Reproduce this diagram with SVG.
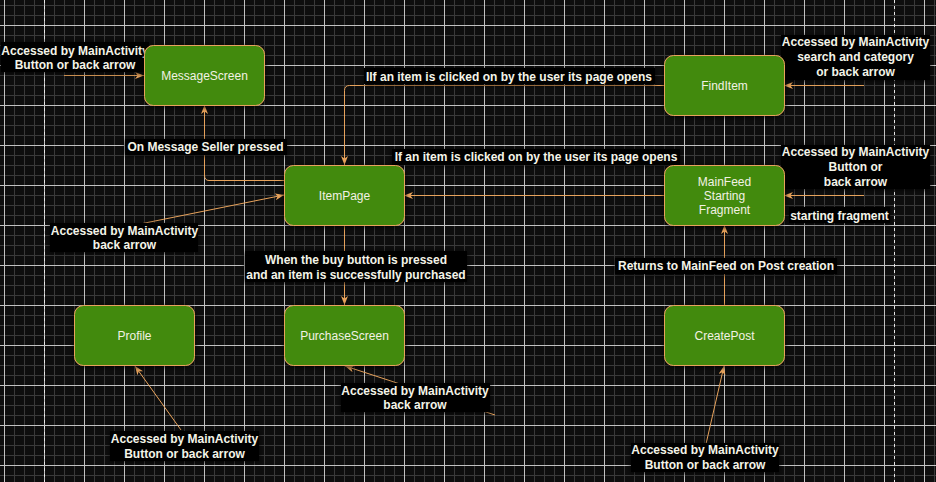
<svg xmlns="http://www.w3.org/2000/svg" width="936" height="482" viewBox="0 0 936 482">
<defs>
<pattern id="minor" patternUnits="userSpaceOnUse" x="4" y="5" width="10" height="10">
<rect x="0" y="0" width="1" height="10" fill="#3a3a3a"/>
<rect x="0" y="0" width="10" height="1" fill="#3a3a3a"/>
</pattern>
<pattern id="major" patternUnits="userSpaceOnUse" x="4" y="25" width="40" height="40">
<rect x="0" y="0" width="1" height="40" fill="#c2c2c2"/>
<rect x="0" y="0" width="40" height="1" fill="#c2c2c2"/>
</pattern>
<marker id="arr" markerUnits="userSpaceOnUse" markerWidth="10" markerHeight="8" refX="9" refY="3.5" orient="auto">
<path d="M0,0 L9,3.5 L0,7 L2.5,3.5 Z" fill="#e8a35c"/>
</marker>
<filter id="glow" x="-20%" y="-30%" width="140%" height="160%">
<feDropShadow dx="0" dy="1" stdDeviation="2.5" flood-color="#000" flood-opacity="0.85"/>
</filter>
</defs>
<style>
.node rect{fill:#428a10;stroke:#e8a35c;stroke-width:1;filter:url(#glow)}
.node text{font-family:"Liberation Sans",Arial,sans-serif;font-size:12px;fill:#f2f2e4;text-anchor:middle}
.edge{fill:none;stroke:#e8a35c;stroke-width:1;marker-end:url(#arr)}
.lbl rect{fill:#000;filter:url(#glow)}
.lbl text{font-family:"Liberation Sans",Arial,sans-serif;font-size:12px;font-weight:bold;fill:#f4f4e8;text-anchor:middle}
</style>
<rect x="0" y="0" width="936" height="482" fill="#0e0e0e"/>
<rect x="0" y="0" width="936" height="482" fill="url(#minor)"/>
<rect x="0" y="0" width="936" height="482" fill="url(#major)"/>
<line x1="44.5" y1="0" x2="44.5" y2="482" stroke="#e6e6e6" stroke-dasharray="3 3"/>
<line x1="894.5" y1="0" x2="894.5" y2="482" stroke="#e6e6e6" stroke-dasharray="3 3"/>

<g id="connectors">
<path class="edge" d="M64,75.5 H144"/>
<path class="edge" d="M284,180.5 H209 Q204.5,180.5 204.5,175 V105"/>
<path class="edge" d="M664,85.5 H349.5 Q344.5,85.5 344.5,90.5 V165"/>
<path class="edge" d="M664,195.5 H404"/>
<path class="edge" d="M864,85.5 H784"/>
<path class="edge" d="M864,195.5 H784"/>
<path class="edge" d="M724.5,305 V225"/>
<path class="edge" d="M344.5,225 V305"/>
<path class="edge" d="M140,224 L284,195"/>
<path class="edge" d="M181,430 L135,366"/>
<path class="edge" d="M495,415 L345,366"/>
<path class="edge" d="M706,444 L724,366"/>

<g class="lbl">
<rect x="1" y="42" width="148" height="30"/>
<text x="75" y="54.5">Accessed by MainActivity</text>
<text x="75" y="69">Button or back arrow</text>
</g>
<g class="lbl">
<rect x="125" y="139" width="162" height="16"/>
<text x="205.5" y="151">On Message Seller pressed</text>
</g>
<g class="lbl">
<rect x="364" y="68" width="291" height="16"/>
<text x="509" y="80.5">IIf an item is clicked on by the user its page opens</text>
</g>
<g class="lbl">
<rect x="392" y="149" width="288" height="16"/>
<text x="536" y="161">If an item is clicked on by the user its page opens</text>
</g>
<g class="lbl">
<rect x="781" y="35" width="149" height="45"/>
<text x="855.5" y="46">Accessed by MainActivity</text>
<text x="855.5" y="61">search and category</text>
<text x="855.5" y="76">or back arrow</text>
</g>
<g class="lbl">
<rect x="781" y="145" width="149" height="44"/>
<text x="855.5" y="156">Accessed by MainActivity</text>
<text x="855.5" y="171">Button or</text>
<text x="855.5" y="186">back arrow</text>
</g>
<g class="lbl">
<rect x="789" y="207" width="101" height="16"/>
<text x="839.5" y="219.5">starting fragment</text>
</g>
<g class="lbl">
<rect x="615" y="258" width="222" height="16"/>
<text x="726" y="270">Returns to MainFeed on Post creation</text>
</g>
<g class="lbl">
<rect x="245" y="251" width="222" height="31"/>
<text x="356" y="263.5">When the buy button is pressed</text>
<text x="356" y="278.5">and an item is successfully purchased</text>
</g>
<g class="lbl">
<rect x="50" y="223" width="148" height="29"/>
<text x="124.5" y="234.5">Accessed by MainActivity</text>
<text x="124.5" y="248.5">back arrow</text>
</g>
<g class="lbl">
<rect x="110" y="431" width="149" height="30"/>
<text x="184.5" y="442.5">Accessed by MainActivity</text>
<text x="184.5" y="457.5">Button or back arrow</text>
</g>
<g class="lbl">
<rect x="341" y="383" width="149" height="29"/>
<text x="415" y="394.5">Accessed by MainActivity</text>
<text x="415" y="408.5">back arrow</text>
</g>
<g class="lbl">
<rect x="631" y="443" width="148" height="29"/>
<text x="705" y="453.5">Accessed by MainActivity</text>
<text x="705" y="468.5">Button or back arrow</text>
</g>
</g>

<g id="MessageScreen" class="node">
<rect x="144.5" y="45.5" width="120" height="60" rx="9"/>
<text x="204.5" y="79.5">MessageScreen</text>
</g>
<g id="FindItem" class="node">
<rect x="664.5" y="55.5" width="120" height="60" rx="9"/>
<text x="724.5" y="89.5">FindItem</text>
</g>
<g id="ItemPage" class="node">
<rect x="284.5" y="165.5" width="120" height="60" rx="9"/>
<text x="344.5" y="199.5">ItemPage</text>
</g>
<g id="MainFeed" class="node">
<rect x="664.5" y="165.5" width="120" height="60" rx="9"/>
<text x="724.5" y="186">MainFeed</text>
<text x="724.5" y="200">Starting</text>
<text x="724.5" y="214">Fragment</text>
</g>
<g id="Profile" class="node">
<rect x="74.5" y="305.5" width="120" height="60" rx="9"/>
<text x="134.5" y="339.5">Profile</text>
</g>
<g id="PurchaseScreen" class="node">
<rect x="284.5" y="305.5" width="120" height="60" rx="9"/>
<text x="344.5" y="339.5">PurchaseScreen</text>
</g>
<g id="CreatePost" class="node">
<rect x="664.5" y="305.5" width="120" height="60" rx="9"/>
<text x="724.5" y="339.5">CreatePost</text>
</g>
</svg>
